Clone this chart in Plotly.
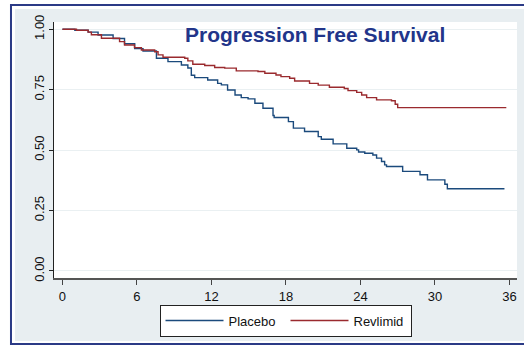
import plotly.graph_objects as go

# ---- data (months, survival proportion) ----
placebo_t = [0, 1.0, 2.07, 2.87, 4.08, 5.0, 5.82, 6.49, 7.57, 8.5, 9.58, 10.1, 10.38, 10.65,
             11.7, 12.5, 12.8, 13.3, 13.9, 14.4, 14.95, 15.5, 16.15, 16.96, 17.05, 18.2, 18.6,
             19.5, 20.6, 20.85, 21.8, 22.9, 23.7, 23.85, 24.35, 25.0, 25.3, 25.7, 25.95, 26.1,
             27.4, 28.8, 29.4, 30.8, 31.0, 35.6]
placebo_s = [1.0, 0.996, 0.988, 0.976, 0.962, 0.94, 0.92, 0.91, 0.88, 0.866, 0.852, 0.84, 0.81, 0.80,
             0.79, 0.776, 0.77, 0.749, 0.728, 0.717, 0.712, 0.694, 0.673, 0.643, 0.635, 0.618, 0.591,
             0.577, 0.556, 0.545, 0.526, 0.508, 0.501, 0.492, 0.487, 0.48, 0.467, 0.453, 0.439, 0.432,
             0.412, 0.398, 0.377, 0.359, 0.34, 0.34]

revlimid_t = [0, 1.13, 2.07, 2.33, 3.14, 4.6, 5.0, 5.8, 6.36, 7.43, 7.7, 8.1, 9.85, 10.1, 10.5,
              11.46, 12.26, 13.07, 14.0, 15.75, 16.3, 17.2, 17.6, 18.3, 18.7, 19.9, 20.6, 21.5,
              22.7, 23.0, 23.7, 24.1, 24.5, 25.3, 26.5, 26.8, 27.0, 35.75]
revlimid_s = [1.0, 0.996, 0.988, 0.977, 0.963, 0.949, 0.935, 0.924, 0.914, 0.907, 0.894, 0.884, 0.88,
              0.869, 0.855, 0.85, 0.842, 0.839, 0.828, 0.825, 0.818, 0.811, 0.804, 0.797, 0.786,
              0.776, 0.769, 0.76, 0.755, 0.746, 0.739, 0.728, 0.717, 0.708, 0.704, 0.69, 0.676, 0.676]

x_ticks = [0, 6, 12, 18, 24, 30, 36]
y_ticks = [0.0, 0.25, 0.5, 0.75, 1.0]
y_tick_labels = ["0.00", "0.25", "0.50", "0.75", "1.00"]

FONT = "Liberation Sans, Arial, sans-serif"
BLUE = "#1b4a7c"
RED = "#9a2a2e"

fig = go.Figure()
fig.add_trace(go.Scatter(x=placebo_t, y=placebo_s, mode="lines", name="Placebo",
                         line=dict(color=BLUE, width=1.4, shape="hv")))
fig.add_trace(go.Scatter(x=revlimid_t, y=revlimid_s, mode="lines", name="Revlimid",
                         line=dict(color=RED, width=1.4, shape="hv")))

fig.update_layout(
    width=524, height=347,
    margin=dict(l=54, r=7, t=22, b=69),
    paper_bgcolor="white",
    plot_bgcolor="white",
    font=dict(family=FONT, size=13, color="#111111"),
    showlegend=True,
    legend=dict(orientation="h", x=0.5, xanchor="center", y=-0.104, yanchor="top",
                bgcolor="white", bordercolor="#222222", borderwidth=1,
                font=dict(family=FONT, size=13, color="#111111"),
                itemwidth=58, entrywidth=52, entrywidthmode="pixels"),
    xaxis=dict(range=[-0.68, 36.61], tickvals=x_ticks, showgrid=False, zeroline=False,
               showline=True, linecolor="#555555", linewidth=2, ticks="outside", ticklen=5,
               tickcolor="#444444", tickwidth=1),
    yaxis=dict(range=[-0.029, 1.03], tickvals=y_ticks, ticktext=y_tick_labels, tickangle=-90,
               showgrid=True, gridcolor="#eaf0f2", gridwidth=1, zeroline=False,
               showline=True, linecolor="#222222", linewidth=1, ticks="outside", ticklen=4,
               tickcolor="#222222", tickwidth=1),
    shapes=[
        dict(type="rect", xref="paper", yref="paper", x0=-0.0842, x1=1.2, y0=-0.246, y1=1.0508,
             fillcolor="#e8eef1", line=dict(width=0), layer="below"),
        dict(type="rect", xref="paper", yref="paper", x0=0, x1=1, y0=0, y1=1,
             fillcolor="white", line=dict(width=0), layer="below"),
        dict(type="rect", xref="paper", yref="paper", x0=-0.0929, x1=1.2, y0=-0.2578, y1=1.0664,
             fillcolor="rgba(0,0,0,0)", line=dict(color="#2b3a86", width=2), layer="below"),
    ],
    annotations=[
        dict(text="<b>Progression Free Survival</b>", xref="paper", yref="paper",
             x=0.5637, y=0.953, xanchor="center", yanchor="middle", showarrow=False,
             font=dict(family=FONT, size=21, color="#22358a")),
    ],
)

fig.write_html("out.html")
